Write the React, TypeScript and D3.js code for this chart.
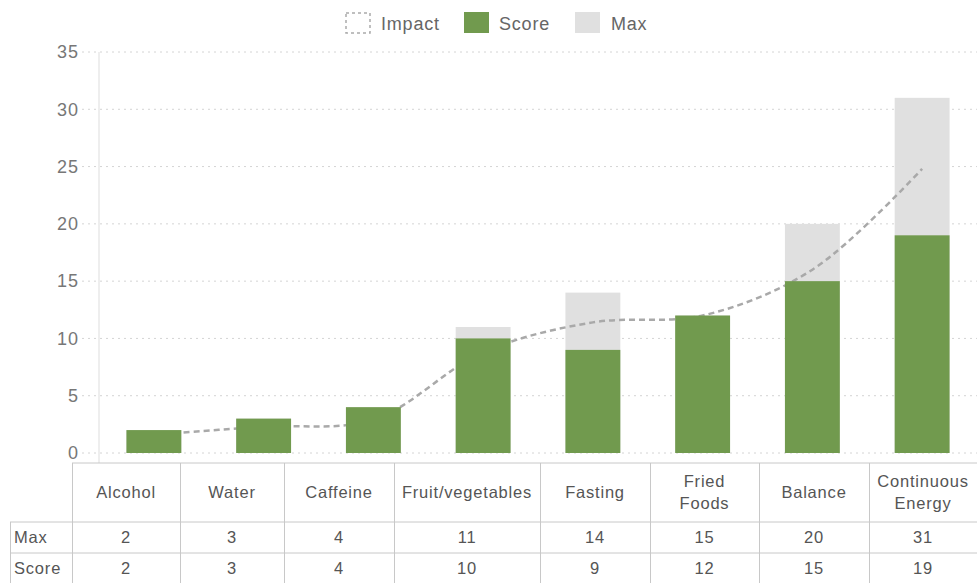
import * as d3 from "d3";
import React, { useEffect, useRef } from "react";

// chart data
const categories = [
  "Alcohol",
  "Water",
  "Caffeine",
  "Fruit/vegetables",
  "Fasting",
  "Fried Foods",
  "Balance",
  "Continuous Energy",
];
const headerLines = [
  ["Alcohol"],
  ["Water"],
  ["Caffeine"],
  ["Fruit/vegetables"],
  ["Fasting"],
  ["Fried", "Foods"],
  ["Balance"],
  ["Continuous", "Energy"],
];
const maxValues = [2, 3, 4, 11, 14, 15, 20, 31];
const scoreValues = [2, 3, 4, 10, 9, 12, 15, 19];
// gray bars as drawn in the picture (Fried Foods shows no gray part)
const maxBarValues = [2, 3, 4, 11, 14, 12, 20, 31];
const impactValues = [1.6, 2.3, 2.9, 8.8, 11.4, 12.0, 16.0, 24.8];
const yTicks = [0, 5, 10, 15, 20, 25, 30, 35];

const WIDTH = 977;
const HEIGHT = 583;
const GREEN = "#719a4e";
const GRAY = "#e0e0e0";
const FONT = "'Liberation Sans', Arial, sans-serif";

const App: React.FC = () => {
  const svgRef = useRef<SVGSVGElement>(null);

  useEffect(() => {
    if (!svgRef.current) return;
    const svg = d3.select(svgRef.current);
    svg.selectAll("*").remove();

    const plotLeft = 99;
    const plotTop = 52;
    const plotBottom = 453;

    const x = d3
      .scaleBand<string>()
      .domain(categories)
      .range([plotLeft, WIDTH])
      .paddingInner(0.5)
      .paddingOuter(0.25);
    const y = d3.scaleLinear().domain([0, 35]).range([plotBottom, plotTop]);

    // grid lines
    svg
      .append("g")
      .selectAll("line")
      .data(yTicks)
      .join("line")
      .attr("x1", 82)
      .attr("x2", WIDTH)
      .attr("y1", (d) => y(d))
      .attr("y2", (d) => y(d))
      .attr("stroke", "#d4d4d4")
      .attr("stroke-width", 1)
      .attr("stroke-dasharray", "2,4");

    // y axis line
    svg
      .append("line")
      .attr("x1", plotLeft)
      .attr("x2", plotLeft)
      .attr("y1", plotTop)
      .attr("y2", 463)
      .attr("stroke", "#dddddd");

    // y labels
    svg
      .append("g")
      .selectAll("text")
      .data(yTicks)
      .join("text")
      .attr("x", 79)
      .attr("y", (d) => y(d))
      .attr("dy", "0.35em")
      .attr("text-anchor", "end")
      .attr("font-family", FONT)
      .attr("font-size", 18)
      .attr("letter-spacing", 1)
      .attr("fill", "#777")
      .text((d) => d);

    // max bars
    svg
      .append("g")
      .selectAll("rect")
      .data(maxBarValues)
      .join("rect")
      .attr("x", (d, i) => x(categories[i]) || 0)
      .attr("width", x.bandwidth())
      .attr("y", (d) => y(d))
      .attr("height", (d) => y(0) - y(d))
      .attr("fill", GRAY);

    // impact line
    const line = d3
      .line<number>()
      .x((d, i) => (x(categories[i]) || 0) + x.bandwidth() / 2)
      .y((d) => y(d))
      .curve(d3.curveCatmullRom.alpha(0.5));
    svg
      .append("path")
      .attr("d", line(impactValues) || "")
      .attr("fill", "none")
      .attr("stroke", "#a9a9a9")
      .attr("stroke-width", 2.5)
      .attr("stroke-dasharray", "6,4");

    // score bars
    svg
      .append("g")
      .selectAll("rect")
      .data(scoreValues)
      .join("rect")
      .attr("x", (d, i) => x(categories[i]) || 0)
      .attr("width", x.bandwidth())
      .attr("y", (d) => y(d))
      .attr("height", (d) => y(0) - y(d))
      .attr("fill", GREEN);

    // legend
    const legend = svg
      .append("g")
      .attr("font-family", FONT)
      .attr("font-size", 18)
      .attr("letter-spacing", 0.8)
      .attr("fill", "#666");
    legend
      .append("rect")
      .attr("x", 346)
      .attr("y", 13)
      .attr("width", 24)
      .attr("height", 20)
      .attr("fill", "none")
      .attr("stroke", "#aaa")
      .attr("stroke-width", 1.5)
      .attr("stroke-dasharray", "3,3");
    legend.append("text").attr("x", 381).attr("y", 30).text("Impact");
    legend
      .append("rect")
      .attr("x", 464)
      .attr("y", 12)
      .attr("width", 25)
      .attr("height", 21)
      .attr("fill", GREEN);
    legend.append("text").attr("x", 499).attr("y", 30).text("Score");
    legend
      .append("rect")
      .attr("x", 575)
      .attr("y", 12)
      .attr("width", 25)
      .attr("height", 21)
      .attr("fill", GRAY);
    legend.append("text").attr("x", 611).attr("y", 30).text("Max");

    // data table below the chart
    const colEdges = [72, 180, 284, 394, 540, 650, 759, 869, WIDTH];
    const tableTop = 463;
    const headerBottom = 522;
    const maxBottom = 553;
    const scoreBottom = 584;
    const rowLabelLeft = 10;
    const table = svg.append("g");
    const border = "#c8c8c8";

    // horizontal borders
    table
      .append("line")
      .attr("x1", colEdges[0])
      .attr("x2", WIDTH)
      .attr("y1", tableTop)
      .attr("y2", tableTop)
      .attr("stroke", border);
    [headerBottom, maxBottom, scoreBottom].forEach((yy) => {
      table
        .append("line")
        .attr("x1", rowLabelLeft)
        .attr("x2", WIDTH)
        .attr("y1", yy)
        .attr("y2", yy)
        .attr("stroke", border);
    });
    // vertical borders
    colEdges.forEach((cx) => {
      table
        .append("line")
        .attr("x1", cx + 0.5)
        .attr("x2", cx + 0.5)
        .attr("y1", tableTop)
        .attr("y2", scoreBottom)
        .attr("stroke", border);
    });
    table
      .append("line")
      .attr("x1", rowLabelLeft + 0.5)
      .attr("x2", rowLabelLeft + 0.5)
      .attr("y1", headerBottom)
      .attr("y2", scoreBottom)
      .attr("stroke", border);

    const cellText = table
      .append("g")
      .attr("font-family", FONT)
      .attr("font-size", 16.5)
      .attr("letter-spacing", 0.8)
      .attr("fill", "#555");

    headerLines.forEach((lines, i) => {
      const cx = (colEdges[i] + colEdges[i + 1]) / 2;
      const cy = (tableTop + headerBottom) / 2;
      lines.forEach((ln, j) => {
        cellText
          .append("text")
          .attr("x", cx)
          .attr("y", cy + (j - (lines.length - 1) / 2) * 22)
          .attr("dy", "0.35em")
          .attr("text-anchor", "middle")
          .text(ln);
      });
    });

    const rows: [string, number[], number, number][] = [
      ["Max", maxValues, headerBottom, maxBottom],
      ["Score", scoreValues, maxBottom, scoreBottom],
    ];
    rows.forEach(([label, vals, top, bottom]) => {
      const cy = (top + bottom) / 2;
      cellText
        .append("text")
        .attr("x", rowLabelLeft + 4)
        .attr("y", cy)
        .attr("dy", "0.35em")
        .text(label);
      vals.forEach((v, i) => {
        cellText
          .append("text")
          .attr("x", (colEdges[i] + colEdges[i + 1]) / 2)
          .attr("y", cy)
          .attr("dy", "0.35em")
          .attr("text-anchor", "middle")
          .text(v);
      });
    });
  }, []);

  return (
    <svg
      ref={svgRef}
      width={WIDTH}
      height={HEIGHT}
      style={{ position: "absolute", left: 0, top: 0, background: "#fff" }}
    />
  );
};

export default App;
